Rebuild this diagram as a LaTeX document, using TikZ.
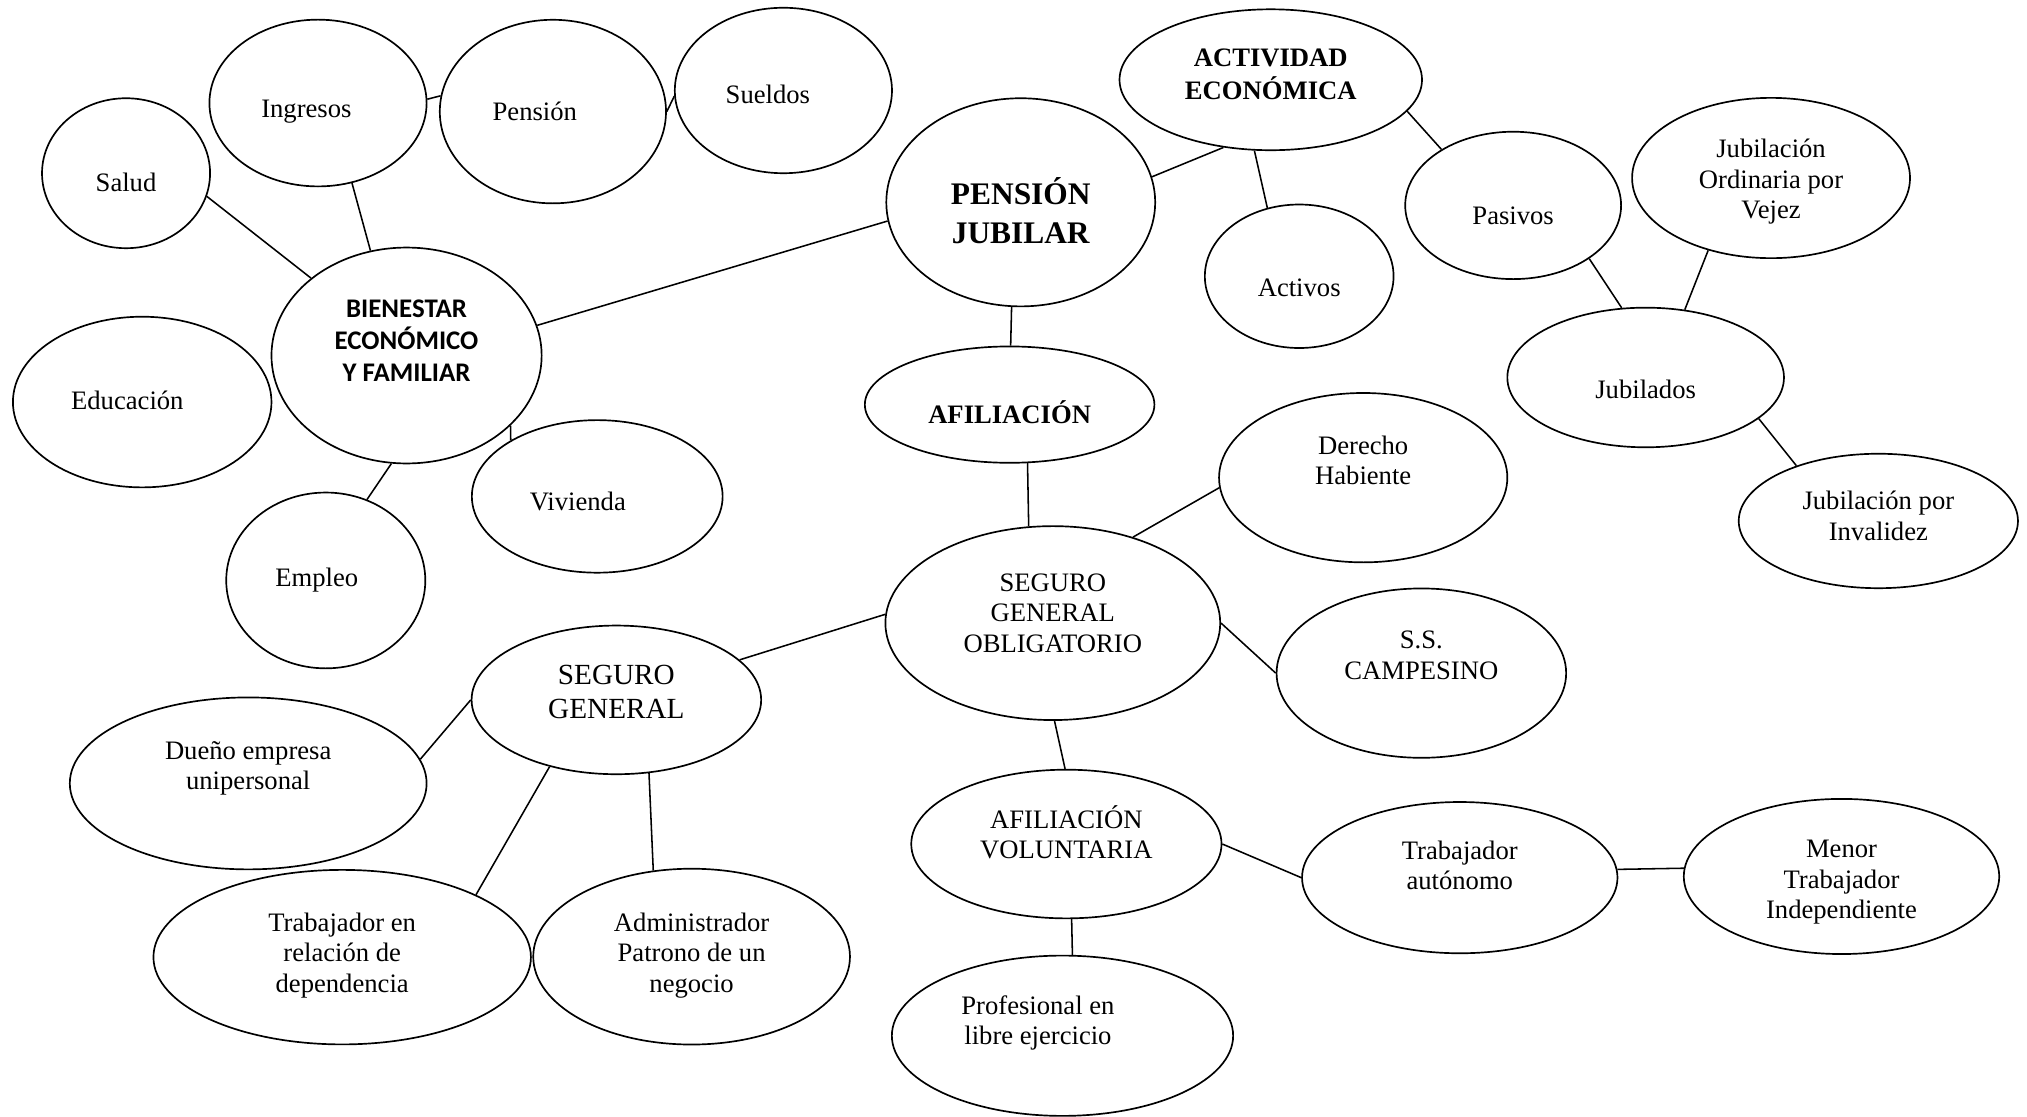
\documentclass[tikz,border=0pt]{standalone}
\usepackage{fontspec}
\setmainfont{Liberation Serif}
\newfontfamily\carlfont{Carlito}
\usetikzlibrary{shapes.geometric}
\newcommand{\tx}[3][0pt]{\makebox[0pt]{\hspace{#1}\hspace{#1}\raisebox{\dimexpr#2-1pt\relax}[0pt][0pt]{\begin{tabular}{@{}c@{}}#3\end{tabular}}}}
\begin{document}
\begin{tikzpicture}[x=1pt,y=-1pt,
  bub/.style={ellipse,draw,line width=1.3pt,inner sep=0pt,fill=white,
    font=\fontsize{20.6}{23.5}\selectfont},
  sz/.style 2 args={minimum width=#1,minimum height=#2},
  con/.style={line width=1.2pt},
  bigbold/.style={font=\fontsize{24.3}{30}\selectfont\bfseries},
  midbold/.style={font=\fontsize{20.6}{25}\selectfont\bfseries},
  sansbold/.style={font=\fontsize{20.8}{25}\selectfont\carlfont\bfseries},
  sgfont/.style={font=\fontsize{22.6}{26}\selectfont}]
\useasboundingbox (0,0) rectangle (1568,864);
% nodes
\node[bub,sz={130pt}{116pt}] (salud) at (97.5,134) {\tx{-13.5pt}{Salud}};
\node[bub,sz={168pt}{129pt}] (ingresos) at (246,79.7) {\tx[-9pt]{-10.5pt}{Ingresos}};
\node[bub,sz={175pt}{142pt}] (pension) at (427.7,86.3) {\tx[-14pt]{-6.5pt}{Pensión}};
\node[bub,sz={168pt}{128pt}] (sueldos) at (606,70) {\tx[-12pt]{-9.5pt}{Sueldos}};
\node[bub,sansbold,sz={209pt}{167pt}] (bien) at (314.5,275) {\tx{5.5pt}{BIENESTAR\\ECONÓMICO\\Y FAMILIAR}};
\node[bub,sz={200pt}{132pt}] (educ) at (110,311) {\tx[-11.5pt]{-5.5pt}{Educación}};
\node[bub,sz={194pt}{118pt}] (viv) at (462,384) {\tx[-15pt]{-10.5pt}{Vivienda}};
\node[bub,sz={154pt}{136pt}] (empleo) at (252,449) {\tx[-7pt]{-4.5pt}{Empleo}};
\node[bub,bigbold,sz={208pt}{161pt}] (pj) at (789.6,156.5) {\tx{-16pt}{PENSIÓN\\JUBILAR}};
\node[bub,midbold,sz={234pt}{109pt}] (act) at (983,61.7) {\tx{-1.5pt}{ACTIVIDAD\\ECONÓMICA}};
\node[bub,sz={146pt}{111pt}] (activos) at (1005,213.7) {\tx{-15.5pt}{Activos}};
\node[bub,sz={167pt}{114pt}] (pasivos) at (1170.5,158.9) {\tx{-14.5pt}{Pasivos}};
\node[bub,sz={215pt}{124pt}] (jubord) at (1370,137.7) {\tx{-7.5pt}{Jubilación\\Ordinaria por\\Vejez}};
\node[bub,sz={214pt}{108pt}] (jubilados) at (1273,292) {\tx{-15.5pt}{Jubilados}};
\node[bub,sz={216pt}{104pt}] (inval) at (1453,403) {\tx{-2.5pt}{Jubilación por\\Invalidez}};
\node[bub,midbold,sz={224pt}{90pt}] (afil) at (781,313) {\tx{-13.5pt}{AFILIACIÓN}};
\node[bub,sz={223pt}{131pt}] (derecho) at (1054.5,369.5) {\tx{7pt}{Derecho\\Habiente}};
\node[bub,sz={259pt}{150pt}] (sgo) at (814.4,482) {\tx{1.5pt}{SEGURO\\GENERAL\\OBLIGATORIO}};
\node[bub,sz={224pt}{131pt}] (ss) at (1099.5,520.7) {\tx{7.5pt}{S.S.\\CAMPESINO}};
\node[bub,sgfont,sz={224pt}{115pt}] (sg) at (476.8,541.4) {\tx{0pt}{SEGURO\\GENERAL}};
\node[bub,sz={276pt}{133pt}] (dueno) at (192,606) {\tx{7.5pt}{Dueño empresa\\unipersonal}};
\node[bub,sz={292pt}{135pt}] (trab) at (264.7,740.4) {\tx{-3pt}{Trabajador en\\relación de\\dependencia}};
\node[bub,sz={245pt}{136pt}] (adm) at (535,740) {\tx{-3.5pt}{Administrador\\Patrono de un\\negocio}};
\node[bub,sz={240pt}{115pt}] (av) at (824.9,652.9) {\tx{1.5pt}{AFILIACIÓN\\VOLUNTARIA}};
\node[bub,sz={264pt}{124pt}] (prof) at (821.9,801.2) {\tx[-19pt]{5.5pt}{Profesional en\\libre ejercicio}};
\node[bub,sz={244pt}{117pt}] (ta) at (1129.2,678.9) {\tx{3pt}{Trabajador\\autónomo}};
\node[bub,sz={244pt}{120pt}] (menor) at (1424.5,678) {\tx{-8.5pt}{Menor\\Trabajador\\Independiente}};
% connectors
\draw[con] (ingresos.2.9) -- (pension.172.9);
\draw[con] (pension.0.5) -- (sueldos.183.1);
\draw[con] (salud.-16.6) -- (bien.141.4);
\draw[con] (ingresos.-67.5) -- (bien.109.5);
\draw[con] (bien.13.6) -- (pj.188.8);
\draw[con] (bien.-34.5) -- (viv.147.9);
\draw[con] (bien.-98.1) -- (empleo.63.9);
\draw[con] (pj.-95.7) -- (afil.89.4);
\draw[con] (pj.11.8) -- (act.-125.9);
\draw[con] (act.-103.4) -- (activos.115.4);
\draw[con] (act.-13.6) -- (pasivos.142.1);
\draw[con] (pasivos.-35.4) -- (jubilados.109.3);
\draw[con] (jubord.-131.2) -- (jubilados.60.3);
\draw[con] (jubilados.-20.8) -- (inval.146.3);
\draw[con] (afil.-73.2) -- (sgo.104.9);
\draw[con] (derecho.184.6) -- (sgo.47.1);
\draw[con] (sgo.-0.6) -- (ss.180);
\draw[con] (sgo.177.9) -- (sg.18.2);
\draw[con] (sgo.-89.8) -- (av.91.2);
\draw[con] (av.-0.2) -- (ta.180);
\draw[con] (ta.3.2) -- (menor.177.2);
\draw[con] (av.-86.1) -- (prof.83.8);
\draw[con] (sg.180) -- (dueno.8.3);
\draw[con] (sg.-135.1) -- (trab.25.6);
\draw[con] (sg.-66.1) -- (adm.114.4);
\end{tikzpicture}
\end{document}
